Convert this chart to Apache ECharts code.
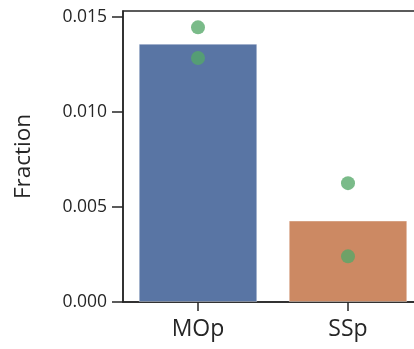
<!DOCTYPE html>
<html>
<head>
<meta charset="utf-8">
<script src="https://cdn.jsdelivr.net/npm/echarts@6/dist/echarts.min.js"></script>
<style>html,body{margin:0;padding:0;background:#fff;}#c{width:414px;height:349px;}</style>
</head>
<body>
<div id="c"></div>
<script>
var categories = ['MOp', 'SSp'];
var barValues = [0.01358, 0.00428];
var barColors = ['#5975a4', '#cc8963'];
var pointsMOp = [0.01444, 0.01283];
var pointsSSp = [0.00625, 0.0024];
var yTicks = [0, 0.005, 0.010, 0.015];

var chart = echarts.init(document.getElementById('c'), null, {renderer: 'canvas'});
var pts = [];
pointsMOp.forEach(function (v) { pts.push([categories[0], v]); });
pointsSSp.forEach(function (v) { pts.push([categories[1], v]); });

var font = '"Open Sans", sans-serif';
chart.setOption({
  animation: false,
  grid: {left: 123, top: 11, width: 300, height: 291, outerBoundsMode: 'none', containLabel: false,
    show: true, borderColor: '#262626', borderWidth: 1.5, backgroundColor: 'transparent'},
  xAxis: {
    type: 'category', data: categories, boundaryGap: true,
    axisLine: {show: true, lineStyle: {color: '#262626', width: 1.5}},
    axisTick: {show: true, alignWithLabel: true, length: 9, lineStyle: {color: '#262626', width: 1.5}},
    axisLabel: {color: '#262626', fontSize: 23, fontFamily: font, margin: 16},
    splitLine: {show: false}
  },
  yAxis: {
    type: 'value', min: 0, max: 0.0153,
    name: 'Fraction', nameLocation: 'middle', nameGap: 88, nameRotate: 90,
    nameTextStyle: {color: '#262626', fontSize: 22.5, fontFamily: font},
    axisLine: {show: true, lineStyle: {color: '#262626', width: 1.5}},
    axisTick: {show: true, length: 11, customValues: yTicks, lineStyle: {color: '#262626', width: 1.5}},
    axisLabel: {color: '#262626', fontSize: 17.5, fontFamily: font, margin: 16, customValues: yTicks,
      formatter: function (v) { return v.toFixed(3); }},
    splitLine: {show: false}
  },
  series: [
    {
      type: 'bar', barWidth: '79%',
      data: barValues.map(function (v, i) { return {value: v, itemStyle: {color: barColors[i]}}; }),
      itemStyle: {borderColor: 'rgba(255,255,255,0.35)', borderWidth: 1}
    },
    {
      type: 'scatter', data: pts, symbolSize: 14,
      itemStyle: {color: '#55a868', opacity: 0.78}, z: 5
    }
  ]
});
</script>
</body>
</html>
